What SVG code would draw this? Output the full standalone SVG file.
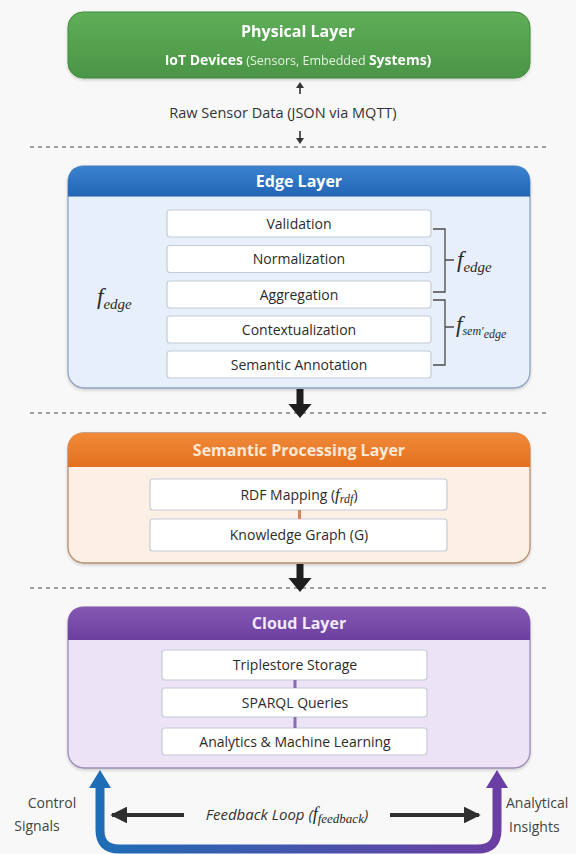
<svg xmlns="http://www.w3.org/2000/svg" width="576" height="854" viewBox="0 0 576 854">
  <defs>
    <style>
      .title { font-family: "Open Sans", "Noto Sans", sans-serif; font-weight: 700; font-size: 16px; text-anchor: middle; }
      .lbl { font-family: "Open Sans", "Noto Sans", sans-serif; font-size: 14px; fill: #2b2b2b; text-anchor: middle; }
      .side { font-family: "Open Sans", "Noto Sans", sans-serif; font-size: 14px; fill: #444; }
      .math { font-family: "Liberation Serif", "DejaVu Serif", serif; font-style: italic; fill: #2b2b2b; }
      .box { fill: #ffffff; stroke: #c3ccd8; stroke-width: 1.2; }
      .dash { stroke: #a0a0a0; stroke-width: 2; stroke-dasharray: 4 4; fill: none; }
      .brace { fill: none; stroke: #4a4a4a; stroke-width: 1.3; }
    </style>
    <linearGradient id="gGreen" x1="0" y1="0" x2="0" y2="1">
      <stop offset="0" stop-color="#5fae58"/>
      <stop offset="1" stop-color="#4a9546"/>
    </linearGradient>
    <linearGradient id="gBlue" x1="0" y1="0" x2="0" y2="1">
      <stop offset="0" stop-color="#3a82d0"/>
      <stop offset="1" stop-color="#2266b4"/>
    </linearGradient>
    <linearGradient id="gOrange" x1="0" y1="0" x2="0" y2="1">
      <stop offset="0" stop-color="#f08a3a"/>
      <stop offset="1" stop-color="#e2701e"/>
    </linearGradient>
    <linearGradient id="gPurple" x1="0" y1="0" x2="0" y2="1">
      <stop offset="0" stop-color="#8558b3"/>
      <stop offset="1" stop-color="#6c3f9f"/>
    </linearGradient>
    <linearGradient id="gLoop" gradientUnits="userSpaceOnUse" x1="100" y1="0" x2="497" y2="0">
      <stop offset="0" stop-color="#1f6db6"/>
      <stop offset="1" stop-color="#6b3ea3"/>
    </linearGradient>
    <filter id="sh" x="-5%" y="-5%" width="110%" height="120%">
      <feDropShadow dx="0" dy="1.5" stdDeviation="1.5" flood-color="#000" flood-opacity="0.18"/>
    </filter>
    <marker id="headDark" viewBox="0 0 10 10" refX="9" refY="5" markerWidth="4.2" markerHeight="4.2" orient="auto-start-reverse">
      <path d="M0,0 L10,5 L0,10 Z" fill="#2f2f2f"/>
    </marker>
  </defs>

  <rect x="0" y="0" width="576" height="854" fill="#f8f8f8"/>

  <!-- layer separators -->
  <g id="separators">
    <line class="dash" x1="30" y1="147" x2="548" y2="147"/>
    <line class="dash" x1="30" y1="413" x2="548" y2="413"/>
    <line class="dash" x1="30" y1="588" x2="548" y2="588"/>
  </g>

  <!-- Physical layer -->
  <g id="physical-layer" filter="url(#sh)">
    <rect x="68" y="12" width="462" height="66" rx="15" fill="url(#gGreen)" stroke="#3f8a3c" stroke-width="1"/>
    <text class="title" x="298" y="37" fill="#ffffff">Physical Layer</text>
    <text x="298" y="65" text-anchor="middle" font-family="Open Sans, Noto Sans, sans-serif" font-size="14" fill="#ffffff"><tspan font-weight="700">IoT Devices</tspan><tspan fill="#e4f2e2" font-size="12.5"> (Sensors, Embedded </tspan><tspan font-weight="700">Systems)</tspan></text>
  </g>

  <!-- raw data label -->
  <g id="raw-data">
    <text x="283" y="118" text-anchor="middle" font-family="Open Sans, Noto Sans, sans-serif" font-size="14.5" fill="#333">Raw Sensor Data (JSON via MQTT)</text>
  </g>

  <!-- Edge layer -->
  <g id="edge-layer">
    <rect x="68" y="166" width="462" height="222" rx="16" fill="#e7effa" stroke="#8ea3c2" stroke-width="1.3" filter="url(#sh)"/>
    <path d="M68,196 V182 Q68,166 84,166 H514 Q530,166 530,182 V196 Z" fill="url(#gBlue)"/>
    <line x1="68" y1="196" x2="530" y2="196" stroke="#1f5ea6" stroke-width="1"/>
    <text class="title" x="299" y="187" fill="#ffffff">Edge Layer</text>

    <g id="validation"><rect class="box" x="167" y="210" width="264" height="27" rx="3"/><text class="lbl" x="299" y="228.5">Validation</text></g>
    <g id="normalization"><rect class="box" x="167" y="245.5" width="264" height="27" rx="3"/><text class="lbl" x="299" y="264">Normalization</text></g>
    <g id="aggregation"><rect class="box" x="167" y="281" width="264" height="27" rx="3"/><text class="lbl" x="299" y="299.5">Aggregation</text></g>
    <g id="contextualization"><rect class="box" x="167" y="316" width="264" height="27" rx="3"/><text class="lbl" x="299" y="334.5">Contextualization</text></g>
    <g id="semantic-annotation"><rect class="box" x="167" y="351" width="264" height="27" rx="3"/><text class="lbl" x="299" y="369.5">Semantic Annotation</text></g>

    <!-- grouping brackets -->
    <path class="brace" d="M433,229 H445 V292 H433 M445,260 H454"/>
    <path class="brace" d="M433,300 H445 V365 H433 M445,327 H454"/>
    <text class="math" x="457" y="267" font-size="23">f<tspan font-size="15" dy="5">edge</tspan></text>
    <text class="math" x="456" y="332" font-size="23">f<tspan font-size="12" dy="3">sem'</tspan><tspan font-size="12" dy="3">edge</tspan></text>
    <text class="math" x="97" y="304" font-size="23">f<tspan font-size="15" dy="5">edge</tspan></text>
  </g>

  <!-- Semantic processing layer -->
  <g id="semantic-layer">
    <rect x="68" y="433" width="462" height="130" rx="16" fill="#fcefe4" stroke="#b98d6e" stroke-width="1.3" filter="url(#sh)"/>
    <path d="M68,467 V449 Q68,433 84,433 H514 Q530,433 530,449 V467 Z" fill="url(#gOrange)"/>
    <text class="title" x="299" y="456" fill="#fde8d4">Semantic Processing Layer</text>
    <g id="rdf-mapping"><rect class="box" x="150" y="479" width="297" height="31" rx="3" stroke="#d2c2b4"/><text class="lbl" x="299" y="499.5">RDF Mapping (<tspan class="math" font-size="17">f</tspan><tspan class="math" font-size="12" dy="3">rdf</tspan><tspan dy="-3">)</tspan></text></g>
    <g id="knowledge-graph"><rect class="box" x="150" y="519" width="297" height="32" rx="3" stroke="#d2c2b4"/><text class="lbl" x="299" y="540">Knowledge Graph (G)</text></g>
  </g>

  <!-- Cloud layer -->
  <g id="cloud-layer">
    <rect x="68" y="607" width="462" height="161" rx="16" fill="#ece3f6" stroke="#9c8bb4" stroke-width="1.3" filter="url(#sh)"/>
    <path d="M68,640 V623 Q68,607 84,607 H514 Q530,607 530,623 V640 Z" fill="url(#gPurple)"/>
    <text class="title" x="299" y="629" fill="#f1e9fb">Cloud Layer</text>
    <g id="triplestore"><rect class="box" x="162" y="650" width="265" height="30" rx="3"/><text class="lbl" x="295" y="670">Triplestore Storage</text></g>
    <g id="sparql"><rect class="box" x="162" y="688" width="265" height="29" rx="3"/><text class="lbl" x="295" y="708">SPARQL Queries</text></g>
    <g id="analytics"><rect class="box" x="162" y="728" width="265" height="27" rx="3"/><text class="lbl" x="295" y="747">Analytics &amp; Machine Learning</text></g>
  </g>

  <!-- connectors -->
  <g id="connectors">
    <!-- raw data exchange with the physical layer -->
    <line x1="300" y1="94" x2="300" y2="87" stroke="#333" stroke-width="1.6"/>
    <path d="M296,88 L300,82 L304,88 Z" fill="#333"/>
    <line x1="300" y1="131" x2="300" y2="139" stroke="#333" stroke-width="1.6"/>
    <path d="M296,138 L300,144 L304,138 Z" fill="#333"/>

    <!-- layer-to-layer flow -->
    <path d="M296.5,389 H303.5 V404 H311.5 L300,418 L288.5,404 H296.5 Z" fill="#1e1e1e"/>
    <path d="M296.5,564 H303.5 V578 H311.5 L300,592 L288.5,578 H296.5 Z" fill="#1e1e1e"/>

    <!-- links inside stacks -->
    <rect x="298" y="510" width="3" height="9" fill="#c98a5c"/>
    <rect x="293.5" y="680" width="3" height="8" fill="#8a6bb0"/>
    <rect x="293.5" y="717" width="3" height="11" fill="#8a6bb0"/>

    <!-- feedback loop -->
    <path d="M100,786 V830 Q100,849 119,849 H478 Q497,849 497,830 V786" fill="none" stroke="url(#gLoop)" stroke-width="9"/>
    <path d="M89,788 L100,770 L111,788 Z" fill="#1f6db6"/>
    <path d="M486,788 L497,770 L508,788 Z" fill="#6b3ea3"/>

    <line x1="112" y1="815" x2="184" y2="815" stroke="#2f2f2f" stroke-width="4" marker-start="url(#headDark)"/>
    <line x1="390" y1="815" x2="479" y2="815" stroke="#2f2f2f" stroke-width="4" marker-end="url(#headDark)"/>
  </g>

  <!-- loop annotations -->
  <g id="feedback-labels">
    <text x="287" y="820" text-anchor="middle" font-family="Open Sans, Noto Sans, sans-serif" font-style="italic" font-size="15" fill="#333">Feedback Loop (<tspan class="math" font-size="18">f</tspan><tspan class="math" font-size="13" dy="3">feedback</tspan><tspan dy="-3">)</tspan></text>
    <text class="side" x="52" y="808" text-anchor="middle">Control</text>
    <text class="side" x="37" y="831" text-anchor="middle">Signals</text>
    <text class="side" x="506" y="808">Analytical</text>
    <text class="side" x="509" y="832">Insights</text>
  </g>
</svg>
